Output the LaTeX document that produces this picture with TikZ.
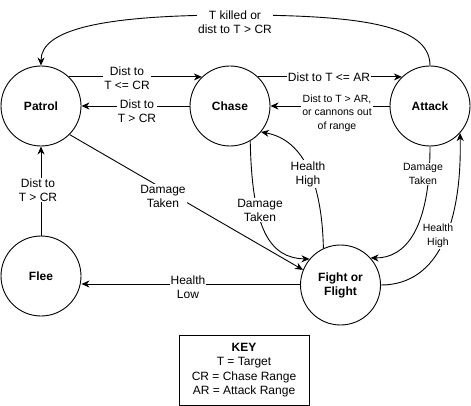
\documentclass[tikz,border=0pt]{standalone}
\usepackage{fontspec}
\setmainfont{Liberation Sans}
\usetikzlibrary{arrows.meta}
\begin{document}
\begin{tikzpicture}[x=1pt,y=-1pt,
  state/.style={draw,circle,line width=0.9pt,minimum size=80pt,inner sep=0pt,align=center,font=\fontsize{12}{14}\selectfont\bfseries},
  edge/.style={line width=0.9pt,-{Stealth[length=8pt,width=7pt,inset=2.5pt]}},
  lab/.style={fill=white,inner sep=1pt,align=center,font=\fontsize{12}{14}\selectfont},
  slab/.style={fill=white,inner sep=1pt,align=center,font=\fontsize{10.5}{13.5}\selectfont},
  keybox/.style={draw,line width=0.9pt,minimum width=130pt,minimum height=70pt,align=center,font=\fontsize{12}{14.5}\selectfont}]
\useasboundingbox (0,0) rectangle (471,406);
\node[state] (patrol) at (41,106) {Patrol};
\node[state] (chase) at (230,106) {Chase};
\node[state] (attack) at (430,106) {Attack};
\node[state] (flee) at (41,276) {Flee};
\node[state] (fight) at (340.5,285) {Fight or\\Flight};
\node[keybox] (key) at (244,370) {\textbf{KEY}\\T = Target\\CR = Chase Range\\AR = Attack Range};

% top curve
\draw[edge] (attack.north) .. controls (430,25) and (360,15) .. (235,15)
  .. controls (100,15) and (41,30) .. (patrol.north);
\node[lab] (l1) at (235,22) {T killed or\\dist to T {>} CR};

\draw[edge] (patrol.46) -- (chase.134);
\node[lab] (l2) at (127,78) {Dist to\\T {<}= CR};
\draw[edge] (chase.west) -- (patrol.east);
\node[lab] (l3) at (137,111) {Dist to\\T {>} CR};
\draw[edge] (chase.46) -- (attack.134);
\node[lab] (l4) at (329,77) {Dist to T {<}= AR};
\draw[edge] (attack.west) -- (chase.east);
\node[slab] (l5) at (337,113) {Dist to T {>} AR,\\or cannons out\\of range};

\draw[edge] (patrol.-45) -- (fight.158);
\node[lab] (l6) at (163,196) {Damage\\Taken};

\draw[edge] (chase.-60) .. controls (252,230) and (270,258) .. (fight.140);
\node[lab] (l7) at (260,210) {Damage\\Taken};

\draw[edge] (fight.115) .. controls (322,185) and (305,140) .. (chase.-40);
\node[lab] (l8) at (308,174) {Health\\High};

\draw[edge] (attack.south) .. controls (430,230) and (405,258) .. (fight.42);
\node[slab] (l9) at (423,174) {Damage\\Taken};

\draw[edge] (fight.east) .. controls (440,285) and (462,220) .. (attack.-42);
\node[slab] (l10) at (438,236) {Health\\High};

\draw[edge] (fight.west |- 0,284) -- (flee.east |- 0,284);
\node[lab] (l11) at (188,287) {Health\\Low};

\draw[edge] (flee.north) -- (patrol.south);
\node[lab] (l12) at (38,190) {Dist to\\T {>} CR};
\end{tikzpicture}
\end{document}
